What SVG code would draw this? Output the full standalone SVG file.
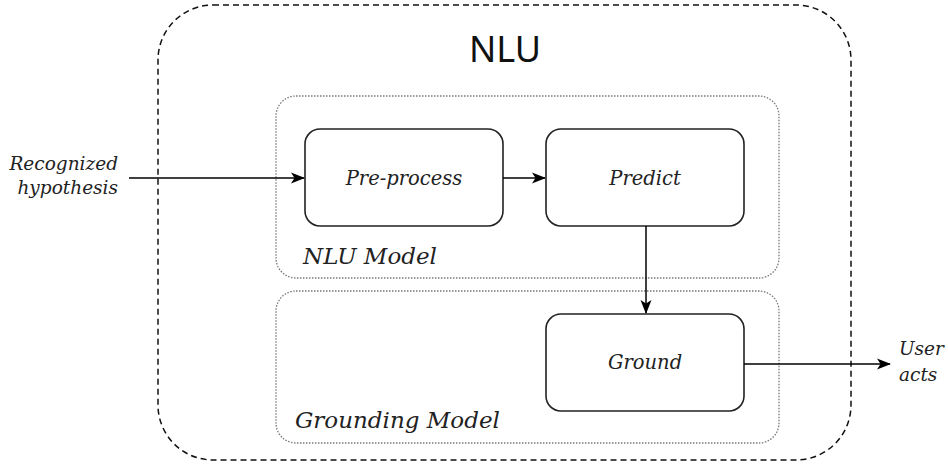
<svg xmlns="http://www.w3.org/2000/svg" width="948" height="466" viewBox="0 0 948 466">
  <defs>
    <marker id="arrow" viewBox="0 0 14 14" refX="13" refY="7" markerWidth="14" markerHeight="14" markerUnits="userSpaceOnUse" orient="auto">
      <path d="M0,1.5 L14,7 L0,12.5 L3.5,7 Z" fill="#000"/>
    </marker>
    <style>
      .outer { fill: none; stroke: #111; stroke-width: 1.5; stroke-dasharray: 6 4; }
      .group { fill: none; stroke: #777; stroke-width: 1.3; stroke-dasharray: 1.5 1.5; }
      .box { fill: #fff; stroke: #222; stroke-width: 1.6; }
      .lbl { font-family: "DejaVu Serif", "Liberation Serif", serif; font-style: italic; font-size: 19.5px; fill: #222; }
      .io { font-family: "DejaVu Serif", "Liberation Serif", serif; font-style: italic; font-size: 18.5px; fill: #222; }
      .glbl { font-family: "DejaVu Serif", "Liberation Serif", serif; font-style: italic; font-size: 23px; fill: #222; }
      .title { font-family: "Noto Sans", "DejaVu Sans", sans-serif; font-size: 36px; fill: #111; }
      .edge { fill: none; stroke: #000; stroke-width: 1.5; marker-end: url(#arrow); }
    </style>
  </defs>
  <rect width="948" height="466" fill="#fff"/>

  <g id="nlu">
    <rect class="outer" x="158" y="5" width="693" height="455" rx="55" ry="55"/>
    <text class="title" x="505" y="62" text-anchor="middle">NLU</text>
  </g>

  <g id="nlu-model">
    <rect class="group" x="276" y="96" width="503" height="182" rx="20" ry="20"/>
    <text class="glbl" x="303" y="264">NLU Model</text>
  </g>

  <g id="grounding-model">
    <rect class="group" x="276" y="291" width="503" height="152" rx="20" ry="20"/>
    <text class="glbl" x="295" y="428">Grounding Model</text>
  </g>

  <g id="pre-process">
    <rect class="box" x="305" y="129" width="198" height="97" rx="15" ry="15"/>
    <text class="lbl" x="404" y="185" text-anchor="middle">Pre-process</text>
  </g>

  <g id="predict">
    <rect class="box" x="546" y="129" width="198" height="97" rx="15" ry="15"/>
    <text class="lbl" x="645" y="185" text-anchor="middle">Predict</text>
  </g>

  <g id="ground">
    <rect class="box" x="546" y="314" width="198" height="97" rx="15" ry="15"/>
    <text class="lbl" x="645" y="369" text-anchor="middle">Ground</text>
  </g>

  <g id="input">
    <text class="io" x="118" y="170" text-anchor="end">Recognized</text>
    <text class="io" x="118" y="194" text-anchor="end">hypothesis</text>
  </g>

  <g id="output">
    <text class="io" x="899" y="355">User</text>
    <text class="io" x="899" y="381">acts</text>
  </g>

  <g id="connectors">
    <line class="edge" x1="129" y1="178" x2="304" y2="178"/>
    <line class="edge" x1="503" y1="178" x2="545" y2="178"/>
    <line class="edge" x1="646" y1="226" x2="646" y2="313"/>
    <line class="edge" x1="744" y1="364" x2="890" y2="364"/>
  </g>
</svg>
